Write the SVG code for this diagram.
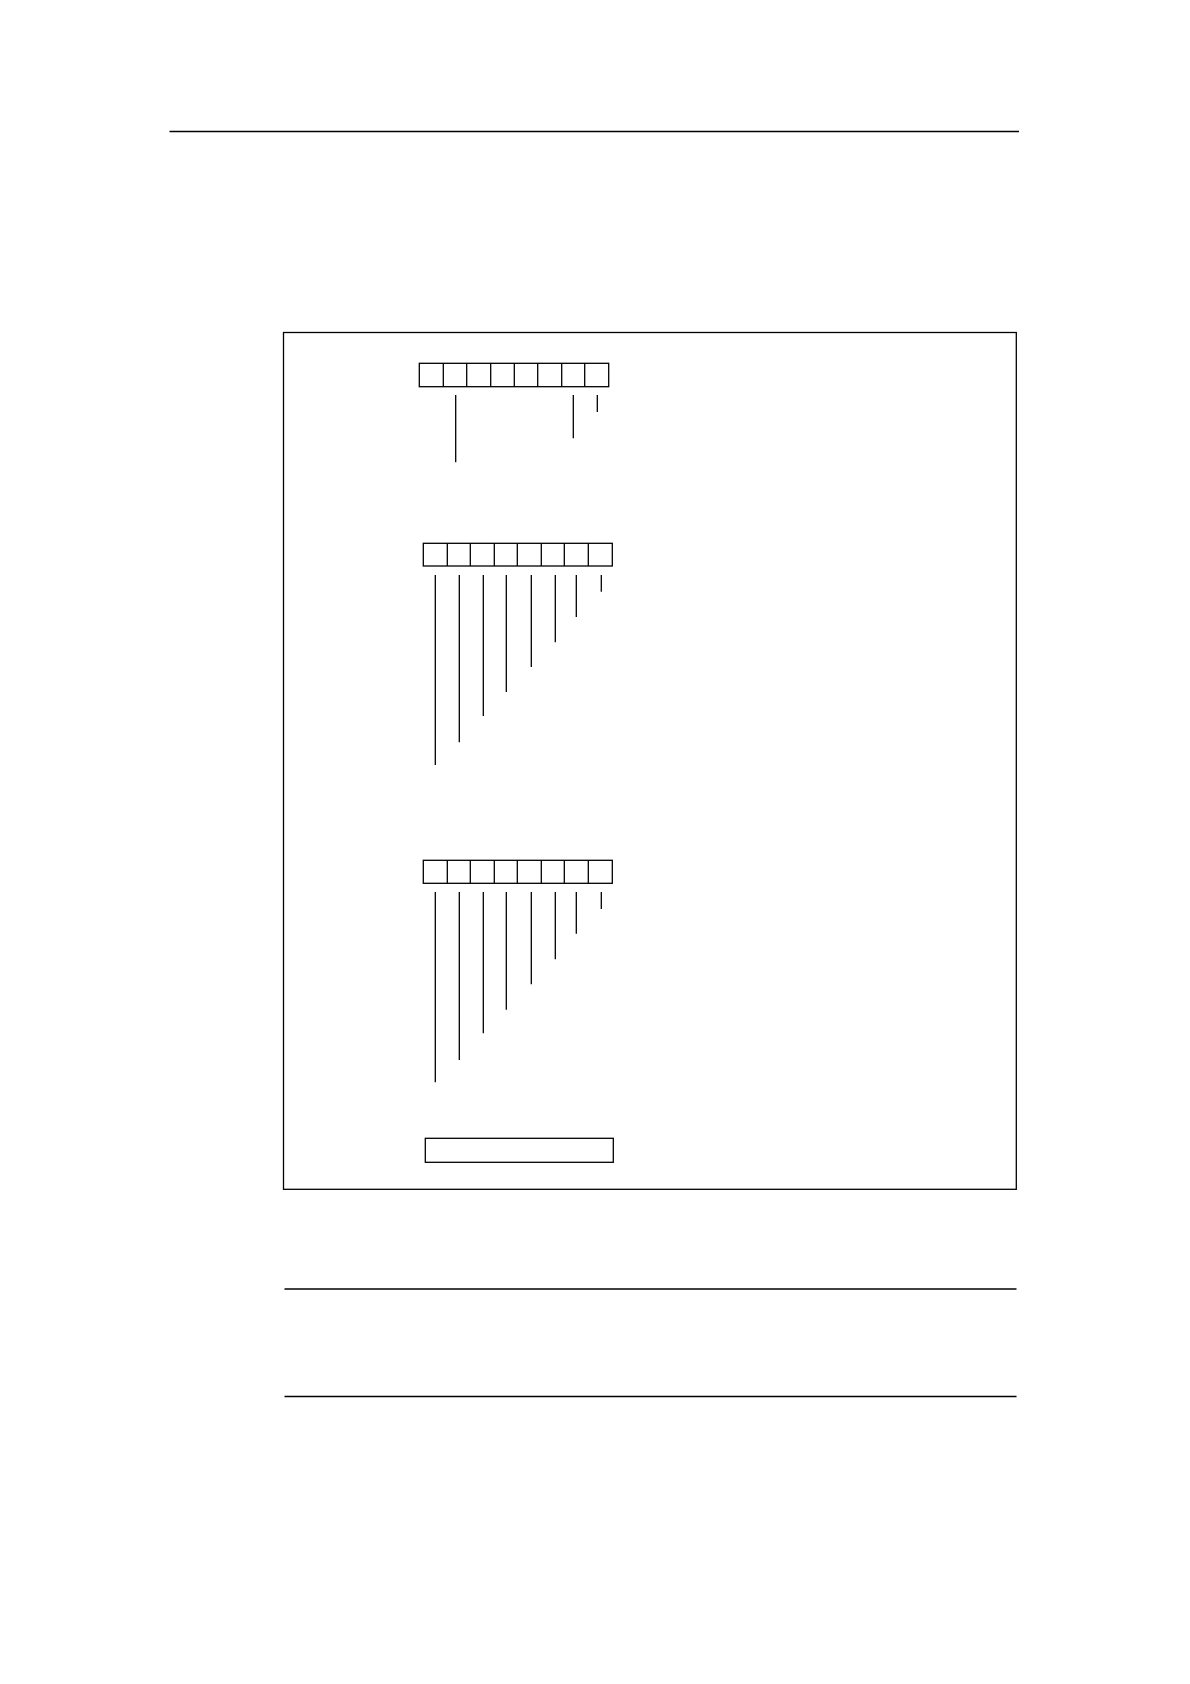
<svg xmlns="http://www.w3.org/2000/svg" width="1190" height="1684" viewBox="0 0 1190 1684">
<style>
.s{fill:none;stroke:#000;stroke-width:1.3}
</style>
<rect width="1190" height="1684" fill="#fff"/>
<g id="page-rules" class="s">
<line x1="169.5" y1="131.5" x2="1019" y2="131.5"/>
<line x1="284.5" y1="1289" x2="1016.5" y2="1289"/>
<line x1="284.5" y1="1396.5" x2="1016.5" y2="1396.5"/>
</g>
<g id="frame"><rect class="s" x="283.5" y="332.5" width="732.8" height="856.8"/></g>
<g id="register1" class="s">
<rect x="419.3" y="363.3" width="189.4" height="23.4"/>
<path d="M443.3 363.3V386.7M466.7 363.3V386.7M490.7 363.3V386.7M514.3 363.3V386.7M537.7 363.3V386.7M561.7 363.3V386.7M584.7 363.3V386.7"/>
</g>
<g id="register2" class="s">
<rect x="423.3" y="543.3" width="189" height="22.7"/>
<path d="M447.3 543.3V566M470.3 543.3V566M494.3 543.3V566M517.3 543.3V566M541.3 543.3V566M564.3 543.3V566M588.3 543.3V566"/>
</g>
<g id="register3" class="s">
<rect x="423.3" y="860.3" width="189" height="23"/>
<path d="M447.3 860.3V883.3M470.3 860.3V883.3M494.3 860.3V883.3M517.3 860.3V883.3M541.3 860.3V883.3M564.3 860.3V883.3M588.3 860.3V883.3"/>
</g>
<g id="wide-box"><rect class="s" x="425.3" y="1138.3" width="188" height="24"/></g>
<g id="connectors" class="s">
<path d="M455.7 395V462.3M573.3 395V438.3M597.3 395V412"/>
<path d="M435.3 575V765M459.3 575V742.3M483.3 575V716M506.3 575V692M531.3 575V667M555.3 575V642.3M576.3 575V617M601.3 575V591.7"/>
<path d="M435.3 892V1082.3M459.3 892V1060M483.3 892V1033.3M506.3 892V1009.7M531.3 892V984.3M555.3 892V959.3M576.3 892V933.7M601.3 892V909"/>
</g>
</svg>
